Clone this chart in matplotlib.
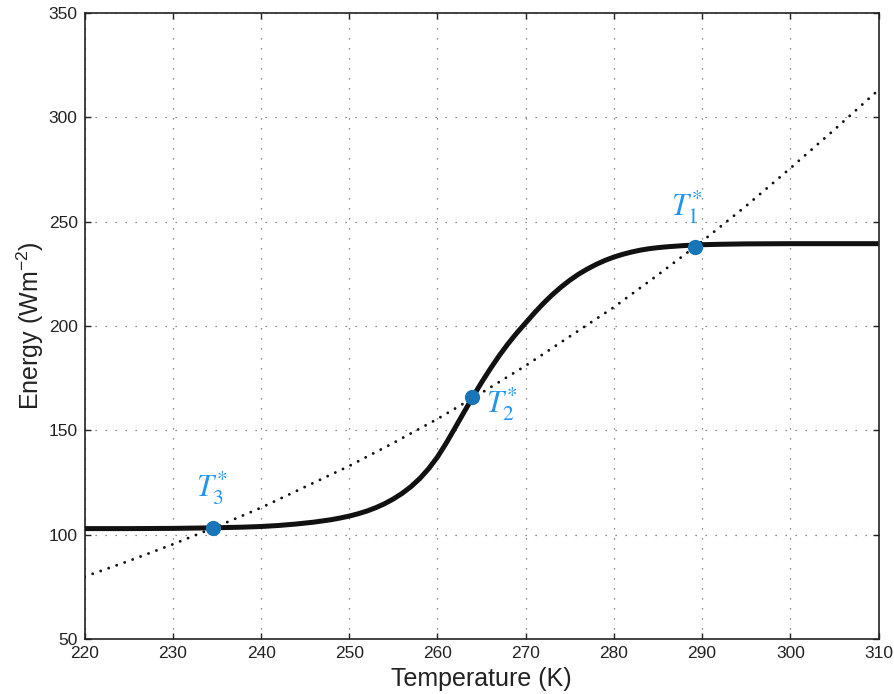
import matplotlib
matplotlib.use("Agg")
import matplotlib.pyplot as plt

plt.rcParams.update({'font.family': ['Liberation Sans', 'DejaVu Sans']})
plt.rcParams['mathtext.fontset'] = 'custom'
plt.rcParams['mathtext.rm'] = 'Liberation Sans'
plt.rcParams['mathtext.it'] = 'Liberation Sans:italic'
plt.rcParams['mathtext.bf'] = 'Liberation Sans:bold'

# === Data ===
# absorbed solar energy (solid curve)
temp_solid = [220, 225, 230, 235, 238, 240, 242, 244, 246, 248, 249, 250, 251, 252, 253,
              254, 255, 256, 257, 258, 259, 260, 261, 262, 263, 264, 265, 266, 267,
              268, 269, 270, 271, 272, 273, 274, 275, 276, 277, 278, 279, 280, 281,
              282, 283, 284, 285, 286, 287, 288, 289, 290, 292, 295, 300, 305, 310]
energy_solid = [103.0, 103.0, 103.1, 103.4, 103.7, 104.0, 104.5, 105.2, 106.1, 107.3,
                108.1, 109.0, 110.1, 111.4, 113.0, 114.9, 117.2, 119.9, 123.1, 127.0,
                131.7, 137.3, 144.0, 151.3, 158.7, 166.0, 173.0, 179.6, 185.8, 191.5,
                196.7, 201.5, 206.3, 210.8, 214.9, 218.6, 221.9, 224.8, 227.3, 229.5,
                231.4, 233.0, 234.3, 235.4, 236.3, 237.0, 237.5, 237.9, 238.2, 238.5,
                238.7, 238.9, 239.1, 239.3, 239.4, 239.4, 239.4]

# outgoing longwave energy (dotted curve)
temp_dot = [220, 225, 230, 235, 240, 245, 250, 255, 260, 265, 270, 275, 280,
            285, 290, 295, 300, 305, 310]
energy_dot = [80, 87.5, 95.5, 104, 113, 123, 133, 144, 155.5, 168, 181, 195, 209,
              224.5, 240.5, 257.5, 275.5, 294, 313]

# equilibrium points
eq_temp = [289.2, 263.95, 234.6]
eq_energy = [238.0, 165.9, 103.4]
eq_labels = [r'$T^{*}_{1}$', r'$T^{*}_{2}$', r'$T^{*}_{3}$']
# position of the label (left edge, baseline of "T") relative to the marker, in pixels
label_px = [(-24, -31), (14, 15), (-17, -31)]

xticks = [220, 230, 240, 250, 260, 270, 280, 290, 300, 310]
yticks = [50, 100, 150, 200, 250, 300, 350]

label_color = '#2196f0'
PX = 0.72  # points per pixel at dpi 100

fig = plt.figure(figsize=(8.94, 6.94), dpi=100)
ax = fig.add_axes([0.0947, 0.0788, 0.888, 0.903])

ax.plot(temp_solid, energy_solid, color='#111111', linewidth=3.6, zorder=3,
        solid_capstyle='butt', solid_joinstyle='round')
ax.plot(temp_dot, energy_dot, color='#111111', linewidth=2.1,
        linestyle=(0, (0.01, 2.9)), dash_capstyle='round', zorder=3)

ax.plot(eq_temp, eq_energy, 'o', color='#1876b8', markersize=11, zorder=4,
        markeredgewidth=0)

for t, e, lab, (dx, dy) in zip(eq_temp, eq_energy, eq_labels, label_px):
    ax.annotate(lab, (t, e), xytext=(dx * PX, -dy * PX), textcoords='offset points',
                ha='left', va='baseline', color=label_color, fontsize=22,
                math_fontfamily='stix', zorder=5, annotation_clip=False)

ax.set_xlim(220, 310)
ax.set_ylim(50, 350)
ax.set_xticks(xticks)
ax.set_yticks(yticks)

ax.grid(True, color='#666666', linestyle=(0, (1, 7)), linewidth=0.9)
ax.set_axisbelow(True)

for s in ax.spines.values():
    s.set_linewidth(1.2)
    s.set_color('#222222')

ax.tick_params(direction='in', top=True, right=True, length=4, width=1.0,
               labelsize=12.5, colors='#222222', pad=5)

ax.set_xlabel('Temperature (K)', fontsize=18, labelpad=4, color='#222222')
ax.set_ylabel(r'Energy (Wm$^{-2}$)', fontsize=18, labelpad=2, color='#222222')

fig.savefig('out.png', dpi=100, facecolor='white')
